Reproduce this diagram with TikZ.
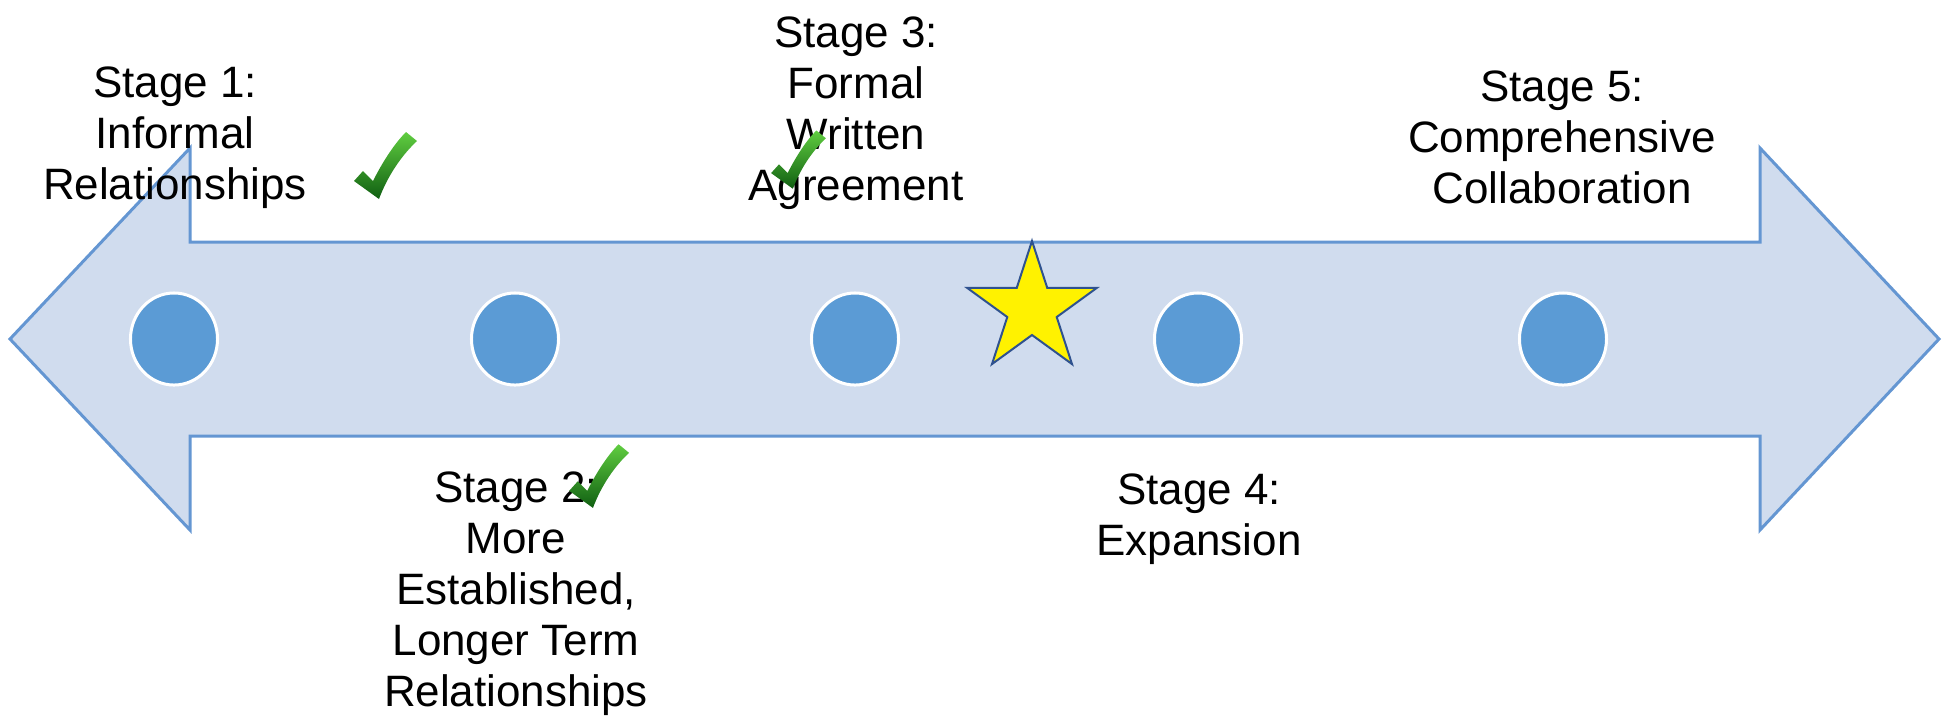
\documentclass[tikz,border=0pt]{standalone}
\usepackage{fontspec}
\setmainfont{Liberation Sans}
\usetikzlibrary{shapes.geometric}
\definecolor{bandfill}{RGB}{208,220,238}
\definecolor{bandline}{RGB}{100,150,210}
\definecolor{dotblue}{RGB}{91,155,213}
\definecolor{starline}{RGB}{47,82,143}
\definecolor{ticklight}{RGB}{96,205,64}
\definecolor{tickdark}{RGB}{16,95,18}
\tikzset{
  stagelabel/.style={align=center,anchor=north,inner sep=0pt,font=\fontsize{12.5}{14.5}\selectfont},
  stagedot/.style={ellipse,fill=dotblue,draw=white,line width=0.03cm,minimum width=0.87cm,minimum height=0.92cm,inner sep=0pt},
  okmark/.pic={\shade[top color=ticklight,bottom color=tickdark]
    (-24,-16) -- (-15,-26) .. controls (-10,-21) .. (-5,-16)
    .. controls (5,-36) and (17,-54) .. (28,-65) -- (39,-56)
    .. controls (24,-42) and (10,-22) .. (1,2) -- cycle;}
}
\begin{document}
\begin{tikzpicture}[x=0.01cm,y=-0.01cm]
\useasboundingbox (0,0) rectangle (1944,720);
\draw[fill=bandfill,draw=bandline,line width=0.03cm] (10,339) -- (190,148) -- (190,242) -- (1760,242) -- (1760,148)
  -- (1939,339) -- (1760,530) -- (1760,436) -- (190,436) -- (190,530) -- cycle;
\node[stagedot] (d1) at (174,339) {};
\node[stagedot] (d2) at (515,339) {};
\node[stagedot] (d3) at (855,339) {};
\node[stagedot] (d4) at (1198,339) {};
\node[stagedot] (d5) at (1563,339) {};
\node[star,star points=5,star point ratio=2.618,fill=yellow,draw=starline,line width=0.02cm,
  minimum size=1.36cm,inner sep=0pt] (here) at (1032,309) {};
\node[stagelabel] (s1) at (175,66) {Stage 1:\\Informal\\Relationships};
\node[stagelabel] (s3) at (856,16) {Stage 3:\\Formal\\Written\\Agreement};
\node[stagelabel] (s5) at (1562,70) {Stage 5:\\Comprehensive\\Collaboration};
\node[stagelabel] (s2) at (516,471) {Stage 2:\\More\\Established,\\Longer Term\\Relationships};
\node[stagelabel] (s4) at (1199,473) {Stage 4:\\Expansion};
\pic at (378,197) {okmark};
\pic[scale=0.95] at (592,506) {okmark};
\pic[scale=0.87] at (792,187) {okmark};
\end{tikzpicture}
\end{document}
